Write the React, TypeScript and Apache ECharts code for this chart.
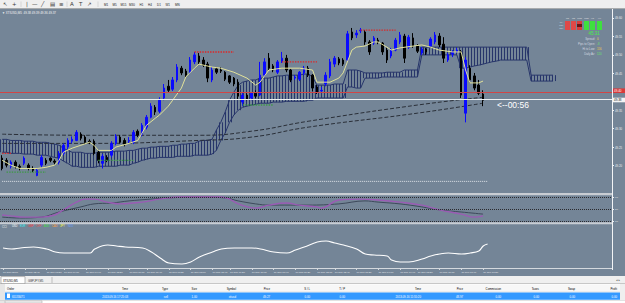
import React, { useEffect, useRef } from 'react';
import * as echarts from 'echarts';

const FONT = 'Liberation Sans';
const BG = '#748597';
const SLOTS = 140;

// ---- M5 candles (open, close, low, high) ----
const opens = [
  49.220, 49.214, 49.198, 49.209, 49.198, 49.206, 49.201, 49.192, 49.173, 49.201,
  49.214, 49.220, 49.212, 49.209, 49.233, 49.250, 49.266, 49.268, 49.285, 49.277,
  49.266, 49.266, 49.236, 49.206, 49.222, 49.228, 49.260, 49.277, 49.268, 49.266,
  49.263, 49.293, 49.285, 49.304, 49.331, 49.358, 49.347, 49.383, 49.415, 49.407,
  49.432, 49.464, 49.456, 49.453, 49.481, 49.497, 49.486, 49.475, 49.432, 49.462,
  49.459, 49.453, 49.443, 49.437, 49.426, 49.372, 49.391, 49.383, 49.396, 49.391,
  49.445, 49.491, 49.470, 49.453, 49.481, 49.491, 49.459, 49.437, 49.434, 49.451,
  49.464, 49.445, 49.413, 49.402, 49.421, 49.443, 49.475, 49.489, 49.486, 49.486,
  49.562, 49.554, 49.565, 49.562, 49.535, 49.532, 49.540, 49.532, 49.513, 49.497,
  49.513, 49.535, 49.551, 49.521, 49.546, 49.524, 49.505, 49.516, 49.524, 49.535,
  49.551, 49.529, 49.486, 49.502, 49.508, 49.508, 49.342, 49.464, 49.443, 49.418,
  49.394,
];
const closes = [
  49.192, 49.201, 49.209, 49.198, 49.195, 49.220, 49.192, 49.187, 49.187, 49.222,
  49.206, 49.214, 49.209, 49.233, 49.255, 49.268, 49.271, 49.290, 49.274, 49.263,
  49.263, 49.233, 49.214, 49.225, 49.214, 49.260, 49.279, 49.263, 49.258, 49.268,
  49.290, 49.282, 49.309, 49.331, 49.361, 49.345, 49.377, 49.410, 49.404, 49.432,
  49.467, 49.451, 49.445, 49.486, 49.500, 49.481, 49.472, 49.437, 49.459, 49.453,
  49.456, 49.434, 49.426, 49.421, 49.388, 49.391, 49.380, 49.396, 49.388, 49.445,
  49.481, 49.464, 49.459, 49.481, 49.491, 49.459, 49.432, 49.440, 49.453, 49.464,
  49.445, 49.410, 49.399, 49.404, 49.445, 49.481, 49.491, 49.478, 49.475, 49.557,
  49.546, 49.559, 49.567, 49.535, 49.508, 49.546, 49.535, 49.508, 49.486, 49.513,
  49.540, 49.554, 49.491, 49.548, 49.524, 49.510, 49.516, 49.508, 49.543, 49.554,
  49.527, 49.491, 49.500, 49.508, 49.513, 49.391, 49.486, 49.432, 49.410, 49.396,
  49.377,
];
const lows = [
  49.187, 49.195, 49.192, 49.192, 49.187, 49.201, 49.187, 49.182, 49.171, 49.195,
  49.201, 49.209, 49.203, 49.203, 49.228, 49.244, 49.260, 49.266, 49.268, 49.258,
  49.258, 49.228, 49.206, 49.192, 49.209, 49.222, 49.255, 49.260, 49.252, 49.260,
  49.258, 49.277, 49.279, 49.298, 49.328, 49.337, 49.342, 49.377, 49.399, 49.402,
  49.426, 49.445, 49.440, 49.448, 49.475, 49.475, 49.467, 49.426, 49.426, 49.448,
  49.451, 49.429, 49.421, 49.415, 49.380, 49.361, 49.377, 49.377, 49.383, 49.388,
  49.440, 49.459, 49.453, 49.448, 49.478, 49.453, 49.426, 49.432, 49.429, 49.445,
  49.440, 49.402, 49.394, 49.396, 49.415, 49.437, 49.467, 49.472, 49.470, 49.481,
  49.540, 49.546, 49.559, 49.527, 49.500, 49.527, 49.529, 49.500, 49.478, 49.491,
  49.510, 49.529, 49.478, 49.516, 49.519, 49.505, 49.500, 49.500, 49.521, 49.529,
  49.521, 49.478, 49.481, 49.494, 49.505, 49.383, 49.317, 49.424, 49.404, 49.391,
  49.361,
];
const highs = [
  49.228, 49.220, 49.214, 49.214, 49.203, 49.225, 49.206, 49.198, 49.192, 49.228,
  49.220, 49.222, 49.217, 49.239, 49.260, 49.274, 49.279, 49.296, 49.290, 49.282,
  49.271, 49.271, 49.241, 49.231, 49.228, 49.266, 49.285, 49.282, 49.274, 49.277,
  49.296, 49.298, 49.315, 49.337, 49.369, 49.364, 49.385, 49.421, 49.432, 49.440,
  49.475, 49.470, 49.462, 49.494, 49.508, 49.505, 49.494, 49.481, 49.467, 49.467,
  49.467, 49.456, 49.445, 49.440, 49.434, 49.399, 49.396, 49.399, 49.404, 49.481,
  49.491, 49.505, 49.475, 49.486, 49.508, 49.500, 49.462, 49.445, 49.456, 49.470,
  49.470, 49.448, 49.418, 49.413, 49.453, 49.489, 49.497, 49.494, 49.491, 49.565,
  49.573, 49.567, 49.573, 49.567, 49.540, 49.551, 49.546, 49.535, 49.519, 49.519,
  49.546, 49.562, 49.557, 49.554, 49.559, 49.529, 49.521, 49.519, 49.548, 49.562,
  49.559, 49.548, 49.505, 49.513, 49.519, 49.513, 49.494, 49.472, 49.451, 49.432,
  49.404,
];

const askPrice = 49.402;
const bidPrice = 49.377;
const dottedLevel = 49.157;
const dottedEndIdx = 111;

// ---- Ichimoku cloud (upper / lower edge per bar, shifted forward) ----
const cloudTop = [
  49.271, 49.271, 49.268, 49.268, 49.268, 49.266, 49.266, 49.266, 49.263,
  49.263, 49.263, 49.260, 49.258, 49.255,
  49.247, 49.241,
  49.236, 49.236, 49.236, 49.233, 49.233, 49.233, 49.236, 49.236, 49.236, 49.236, 49.239, 49.239, 49.239, 49.241,
  49.241, 49.244,
  49.247, 49.247, 49.250, 49.250,
  49.252, 49.252, 49.252, 49.255, 49.255,
  49.258, 49.258, 49.260, 49.260,
  49.266, 49.268, 49.268, 49.271,
  49.296, 49.317, 49.345, 49.377, 49.399, 49.418, 49.426, 49.429, 49.432, 49.432,
  49.437, 49.437, 49.437,
  49.440, 49.443, 49.443,
  49.445, 49.445, 49.445, 49.445, 49.448,
  49.448, 49.440,
  49.418, 49.418, 49.418, 49.418, 49.421, 49.421, 49.421,
  49.459, 49.459, 49.459, 49.456,
  49.451, 49.451, 49.451, 49.451, 49.451, 49.453, 49.453, 49.453, 49.453,
  49.459, 49.459, 49.459, 49.459,
  49.521, 49.521, 49.521, 49.521, 49.521, 49.521, 49.521, 49.521, 49.521,
  49.521, 49.521, 49.521, 49.521, 49.521, 49.521, 49.521, 49.521,
  49.521, 49.521, 49.521, 49.521, 49.521, 49.521, 49.521, 49.521,
  49.445, 49.445, 49.445, 49.445, 49.445, 49.445,
];
const cloudBottom = [
  49.236, 49.236, 49.233, 49.233, 49.233, 49.231, 49.231, 49.231, 49.228,
  49.228, 49.228, 49.225, 49.222, 49.220,
  49.212, 49.206,
  49.198, 49.198, 49.195, 49.195, 49.195, 49.195, 49.198, 49.198, 49.198, 49.198, 49.198, 49.201, 49.201, 49.201,
  49.206, 49.209,
  49.214, 49.217, 49.220, 49.220,
  49.222, 49.222, 49.222, 49.222, 49.225,
  49.225, 49.225, 49.225, 49.228,
  49.228, 49.228, 49.228, 49.231,
  49.241, 49.268, 49.288, 49.317, 49.337, 49.350, 49.358, 49.361, 49.364, 49.366,
  49.369, 49.369, 49.369,
  49.372, 49.372, 49.372,
  49.374, 49.374, 49.374, 49.374, 49.374,
  49.377, 49.377,
  49.383, 49.383, 49.383, 49.383, 49.383, 49.383, 49.383,
  49.413, 49.413, 49.410, 49.410,
  49.437, 49.437, 49.437, 49.437, 49.440, 49.440, 49.440, 49.440, 49.440,
  49.440, 49.440, 49.440, 49.440,
  49.500, 49.500, 49.500, 49.500, 49.500, 49.500, 49.500, 49.500, 49.500,
  49.464, 49.464, 49.467, 49.470, 49.472, 49.475, 49.478, 49.481, 49.483,
  49.486, 49.486, 49.486, 49.486, 49.486, 49.486, 49.486,
  49.429, 49.429, 49.429, 49.429, 49.429, 49.429,
];

// ---- Tenkan line (bar index, value) ----
const tenkanIdx = [0, 2, 4, 8, 10, 12, 13, 14, 16, 18, 20, 21, 22, 25, 26, 29, 31, 32, 33, 35, 36, 38, 39, 41, 42, 44, 45, 48, 50, 53, 56, 58, 59, 61, 64, 68, 71, 72, 75, 77, 78, 80, 81, 83, 85, 86, 88, 89, 91, 96, 98, 100, 103, 105, 106, 107, 109, 110];
const tenkanVal = [49.214, 49.201, 49.192, 49.192, 49.195, 49.201, 49.214, 49.236, 49.247, 49.255, 49.263, 49.255, 49.241, 49.241, 49.250, 49.260, 49.268, 49.288, 49.309, 49.328, 49.337, 49.361, 49.377, 49.410, 49.440, 49.464, 49.475, 49.467, 49.464, 49.453, 49.437, 49.418, 49.426, 49.459, 49.464, 49.464, 49.459, 49.426, 49.426, 49.437, 49.451, 49.513, 49.521, 49.524, 49.535, 49.535, 49.521, 49.513, 49.519, 49.527, 49.521, 49.513, 49.508, 49.508, 49.459, 49.424, 49.424, 49.429];

// ---- slow moving averages (dashed) ----
const maIdx = [0, 20, 45, 57, 70, 95, 110];
const maUpper = [49.285, 49.282, 49.282, 49.293, 49.320, 49.364, 49.385];
const maLower = [49.260, 49.260, 49.268, 49.277, 49.304, 49.342, 49.369];

// ---- resistance (red) / support (green) dotted segments ----
const resStart = [0, 44, 64, 82];
const resEnd = [2, 53, 72, 90];
const resVal = [49.233, 49.508, 49.481, 49.567];
const supStart = [1, 22, 55];
const supEnd = [10, 30, 62];
const supVal = [49.182, 49.214, 49.364];

const priceTicks = [49.15, 49.20, 49.25, 49.30, 49.35, 49.40, 49.45, 49.50, 49.55, 49.60];

// ---- oscillator pane (0..100) ----
const stochIdx = [0, 2, 5, 9, 12, 14, 17, 19, 21, 24, 27, 32, 36, 41, 45, 50, 52, 54, 58, 61, 65, 68, 72, 73, 77, 82, 86, 91, 96, 100, 105, 108, 110];
const stochMain = [30, 27, 23, 23, 30, 47, 73, 83, 83, 73, 67, 73, 83, 90, 90, 90, 83, 67, 53, 63, 70, 63, 57, 53, 80, 83, 80, 73, 63, 47, 33, 23, 27];
const signalIdx = [0, 4, 9, 13, 18, 21, 25, 29, 34, 38, 45, 51, 54, 58, 61, 66, 70, 77, 83, 86, 91, 96, 100, 105, 110];
const stochSignal = [23, 20, 23, 40, 57, 67, 70, 77, 83, 87, 90, 87, 77, 67, 63, 63, 63, 67, 77, 73, 67, 57, 47, 40, 33];
const stochLevels = [10, 50, 90];

// ---- CCI pane ----
const cciIdx = [0, 2, 4, 7, 10, 12, 14, 18, 20, 21, 24, 26, 28, 32, 34, 36, 38, 41, 43, 45, 48, 50, 53, 57, 59, 62, 65, 67, 69, 72, 74, 76, 78, 81, 83, 85, 88, 89, 91, 93, 96, 98, 100, 102, 105, 107, 109, 110, 111];
const cciVal = [-18, -27, -18, -9, -27, -55, -64, -64, -64, -27, 9, 0, -9, -18, -55, -109, -155, -164, -145, -100, -55, -27, -18, -18, -27, -55, -64, -36, -9, 36, 45, 27, 9, -27, -73, -82, -91, -127, -145, -145, -118, -91, -73, -64, -73, -64, -45, 0, 18];

// ---- time axis ----
const labelIdx = [0, 5, 10, 14, 19, 24, 29, 33, 38, 43, 48, 52, 57, 62, 67, 72, 76, 81, 86, 91, 95, 100, 105, 110];
const timeLabels = ['16 Sep 02:00', '16 Sep 02:40', '16 Sep 03:20', '16 Sep 04:00', '16 Sep 04:40', '16 Sep 05:20', '16 Sep 06:00', '16 Sep 06:40', '16 Sep 07:20', '16 Sep 08:00', '16 Sep 08:40', '16 Sep 09:20', '16 Sep 10:00', '16 Sep 10:40', '16 Sep 11:20', '16 Sep 12:00', '16 Sep 12:40', '16 Sep 13:20', '16 Sep 14:00', '16 Sep 14:40', '16 Sep 15:20', '16 Sep 16:00', '16 Sep 16:40', '16 Sep 17:20'];

// ---- dashboard panel ----
const panelTf = ['M1', 'M5', 'M15', 'M30', 'H1', 'H4'];
const panelRows = ['MA', 'RSI', 'CCI'];
const panelColor = ['#e04848', '#e04848', '#d83c3c', '#3ee03e', '#3ee03e', '#3ee03e'];
const panelMid = ['#e04848', '#e04848', '#6a1414', '#3ee03e', '#3ee03e', '#3ee03e'];
const statLabels = ['Spread:', 'Pips to Open:', 'Hi to Low:', 'Daily Av:'];
const statValues = ['0', '-8', '156', '120'];
const statColors = ['#f0d848', '#6ae06a', '#f0c848', '#6ae06a'];

// ---- terminal ----
const termHeaders = ['Order', 'Time', 'Type', 'Size', 'Symbol', 'Price', 'S / L', 'T / P', 'Time', 'Price', 'Commission', 'Taxes', 'Swap', 'Profit'];
const termRow = ['65133471', '2013.09.16 17:25:03', 'sell', '1.00', 'xtiusd', '49.27', '0.00', '0.00', '2013.09.16 11:55:20', '48.97', '0.00', '0.00', '0.00', '0.00'];
const termColRight = [12, 128, 168, 197, 236, 270, 310, 345, 421, 463, 501, 539, 575, 617];

const cciCodes = ['USD', 'EUR', 'GBP', 'CHF', 'AUD', 'CAD', 'JPY', 'NZD'];
const cciColors = ['#ffffff', '#30f0f0', '#ff3a3a', '#e05050', '#40e040', '#ffa040', '#ffff40', '#6aa0ff'];

const tfButtons = ['M1', 'M5', 'M15', 'M30', 'H1', 'H4', 'D1', 'W1', 'MN'];

const HATCH = '#27356a';

function T(x: number, y: number, text: string, fill: string, size = 3, align = 'left', extra: any = {}) {
  return {
    type: 'text', x, y, silent: true, z: 100,
    style: { text, fill, fontSize: size, fontFamily: FONT, align, textAlign: align, verticalAlign: 'middle', textVerticalAlign: 'middle', ...extra },
  };
}
function R(x: number, y: number, w: number, h: number, fill: string, stroke?: string) {
  return { type: 'rect', silent: true, z: 99, shape: { x, y, width: w, height: h }, style: { fill, stroke: stroke || null, lineWidth: stroke ? 0.6 : 0 } };
}
function L(x1: number, y1: number, x2: number, y2: number, stroke: string, lw = 1) {
  return { type: 'line', silent: true, z: 99, shape: { x1, y1, x2, y2 }, style: { stroke, lineWidth: lw } };
}

export default function App() {
  const ref = useRef<HTMLDivElement>(null);
  useEffect(() => {
    if (!ref.current) return;
    const chart = echarts.init(ref.current, null, { renderer: 'svg' });

    const categories = Array.from({ length: SLOTS }, (_, i) => {
      const k = labelIdx.indexOf(i);
      return k >= 0 ? timeLabels[k] : '';
    });
    const candleData = opens.map((o, i) => [o, closes[i], lows[i], highs[i]]);
    const cloudData = cloudTop.map((t, i) => [i, t, cloudBottom[i]]);
    const pairs = (idx: number[], vals: number[]) => idx.map((x, k) => [x, vals[k]]);

    const levelSeries = (start: number[], end: number[], vals: number[], color: string) =>
      start.map((s, k) => ({
        type: 'line', xAxisIndex: 0, yAxisIndex: 0, z: 5, silent: true, showSymbol: false,
        data: [[s, vals[k]], [end[k], vals[k]]],
        lineStyle: { color, width: 1.4, type: [1.4, 1.2] },
      }));

    const graphics: any[] = [];
    // toolbar
    graphics.push(R(0, 0, 625, 8.6, '#efefef'));
    graphics.push(L(0, 8.6, 625, 8.6, '#a4a4a4', 0.8));
    const icons = ['↖', '+', '|', '—', '╱', '▤', '≡', 'A', 'T', '↗'];
    const iconX = [3, 12, 26, 32, 41, 50, 59, 70, 79, 87];
    icons.forEach((g, k) => graphics.push(T(iconX[k], 4.3, g, '#3a3a3a', 5.5, 'left', { fontFamily: 'DejaVu Sans' })));
    [21, 67, 98].forEach((x) => graphics.push(L(x, 1.5, x, 7, '#c4c4c4', 0.6)));
    const tfX = [104, 112.5, 120.5, 129, 139.5, 148, 157, 165.5, 175];
    tfButtons.forEach((t, k) => graphics.push(T(tfX[k], 4.3, t, '#202020', 3)));

    // chart info
    graphics.push(T(2, 12.2, '▼ XTIUSD,M5  49.38 49.39 49.36 49.37', '#f4f4f4', 3));

    // price axis line and separators
    graphics.push(L(612.5, 9, 612.5, 270, '#f2f4f6', 1));
    graphics.push(R(0, 193, 612, 2.2, '#c8cdd3'));
    graphics.push(R(0, 222.2, 612, 2, '#c8cdd3'));

    // ask / bid boxes
    graphics.push(R(613, 88.4, 12, 4.6, '#d83a3a'));
    graphics.push(T(614, 90.7, askPrice.toFixed(2), '#ffffff', 3));
    graphics.push(R(613, 97.7, 12, 4.6, '#f4f4f4'));
    graphics.push(T(614, 100, bidPrice.toFixed(2), '#202020', 3));

    // bar timer
    graphics.push(T(497, 104.5, '<--00:56', '#ffffff', 8.5));

    // CCI label
    graphics.push(T(2, 226.6, 'CCI', '#e8e8e8', 2.8));
    cciCodes.forEach((c, k) => graphics.push(T(12 + k * 8, 226.6, c, cciColors[k], 2.6)));

    // dashboard panel
    const colX = [565, 571, 577, 584, 590, 597];
    panelTf.forEach((t, k) => graphics.push(T(colX[k] + 2.5, 18.3, t, '#e4e4e4', 2.3, 'center')));
    panelRows.forEach((r, k) => graphics.push(T(563, 22.5 + k * 3, r, '#d8dde2', 2.2, 'right')));
    colX.forEach((x, k) => {
      graphics.push(R(x, 21, 5, 3, panelColor[k]));
      graphics.push(R(x, 24, 5, 3, panelMid[k]));
      graphics.push(R(x, 27, 5, 3, panelColor[k]));
    });
    graphics.push(T(594, 33.8, '45.31', '#44f044', 4.5, 'center'));
    statLabels.forEach((s, k) => {
      graphics.push(T(595, 38.5 + k * 5, s, '#d4dae0', 2.8, 'right'));
      graphics.push(T(597, 38.5 + k * 5, statValues[k], statColors[k], 2.8));
    });

    // terminal: tabs
    graphics.push(R(0, 276, 625, 8, '#efefef'));
    graphics.push(L(0, 283.7, 625, 283.7, '#9c9c9c', 0.6));
    graphics.push(R(1, 276.6, 24, 7, '#ffffff', '#8a8a8a'));
    graphics.push(T(3, 280.2, 'XTIUSD,M5', '#000000', 2.8));
    graphics.push(T(28, 280.2, 'GBPJPY,M5', '#3a3a3a', 2.8));
    graphics.push(L(52, 277, 52, 283, '#9a9a9a', 0.6));
    graphics.push(T(616, 280.2, '◂ ▸', '#555555', 3, 'left', { fontFamily: 'DejaVu Sans' }));
    // terminal: table
    graphics.push(R(0, 284, 625, 19, '#ffffff'));
    graphics.push(R(0, 284, 5, 19, '#e6e6e6'));
    graphics.push(R(5, 284.5, 615, 7.5, '#f7f7f7'));
    graphics.push(L(5, 292, 620, 292, '#c8c8c8', 0.5));
    termHeaders.forEach((h, k) => {
      if (k === 0) graphics.push(T(7, 288.4, h, '#000000', 2.8));
      else graphics.push(T(termColRight[k], 288.4, h, '#000000', 2.8, 'right'));
    });
    graphics.push(R(5, 292.5, 615, 7.2, '#3399ff'));
    graphics.push(R(7, 293.5, 3, 4.5, '#ffffff'));
    termRow.forEach((v, k) => {
      if (k === 0) graphics.push(T(12, 296.2, v, '#ffffff', 2.8));
      else graphics.push(T(termColRight[k], 296.2, v, '#ffffff', 2.8, 'right'));
    });
    graphics.push(R(620, 284, 5, 16, '#efefef'));
    graphics.push(L(0, 300.5, 625, 300.5, '#c4c4c4', 0.5));
    graphics.push(R(5, 300.8, 37, 2.2, '#f2f2f2', '#b0b0b0'));

    const option: any = {
      animation: false,
      backgroundColor: BG,
      textStyle: { fontFamily: FONT },
      grid: [
        { left: 0, right: 13, top: 18, height: 184.4 },
        { left: 0, right: 13, top: 194, height: 30 },
        { left: 0, right: 13, top: 224, height: 44 },
      ],
      xAxis: [0, 1, 2].map((g) => ({
        type: 'category', gridIndex: g, data: categories, boundaryGap: true,
        show: g === 2,
        position: 'bottom',
        axisLine: { show: g === 2, onZero: false, lineStyle: { color: '#d4d9de', width: 1 } },
        axisTick: { show: g === 2, interval: (i: number) => labelIdx.includes(i), alignWithLabel: true, length: 2, lineStyle: { color: '#d4d9de' } },
        axisLabel: { show: g === 2, interval: 0, align: 'left', fontSize: 2.5, color: '#e8ecf0', margin: 2.5, fontFamily: FONT },
        splitLine: { show: false },
      })),
      yAxis: [
        {
          type: 'value', gridIndex: 0, position: 'right', min: 49.1, max: 49.6, interval: 0.05,
          axisLine: { show: false, onZero: false },
          axisTick: { show: true, length: 2, customValues: priceTicks, lineStyle: { color: '#f0f0f0' } },
          axisLabel: { customValues: priceTicks, showMinLabel: false, fontSize: 2.8, color: '#eef0f2', margin: 3, fontFamily: FONT, formatter: (v: number) => v.toFixed(2) },
          splitLine: { show: false },
        },
        {
          type: 'value', gridIndex: 1, position: 'right', min: 0, max: 100,
          axisLine: { show: false, onZero: false },
          axisTick: { show: true, length: 2, customValues: stochLevels, lineStyle: { color: '#f0f0f0' } },
          axisLabel: { customValues: stochLevels, fontSize: 2.5, color: '#eef0f2', margin: 3, fontFamily: FONT },
          splitLine: { show: false },
        },
        {
          type: 'value', gridIndex: 2, position: 'right', min: -200, max: 200,
          axisLine: { show: false, onZero: false }, axisTick: { show: false }, axisLabel: { show: false }, splitLine: { show: false },
        },
      ],
      series: [
        {
          type: 'custom', name: 'cloud', xAxisIndex: 0, yAxisIndex: 0, z: 1, silent: true,
          data: cloudData,
          encode: { x: 0, y: [1, 2] },
          renderItem: (params: any, api: any) => {
            const i = api.value(0);
            const a = api.coord([i, api.value(1)]);
            const b = api.coord([i, api.value(2)]);
            const w = api.size([1, 0])[0];
            const left = a[0] - w / 2;
            const right = a[0] + w / 2;
            const children: any[] = [];
            for (let x = Math.ceil(left / 3) * 3; x < right; x += 3) {
              children.push({
                type: 'line',
                shape: { x1: x + 0.5, y1: a[1], x2: x + 0.5, y2: b[1] },
                style: { stroke: HATCH, lineWidth: 1 },
              });
            }
            return { type: 'group', children };
          },
        },
        { type: 'line', xAxisIndex: 0, yAxisIndex: 0, z: 1, silent: true, showSymbol: false, data: cloudTop, lineStyle: { color: HATCH, width: 1 } },
        { type: 'line', xAxisIndex: 0, yAxisIndex: 0, z: 1, silent: true, showSymbol: false, data: cloudBottom, lineStyle: { color: HATCH, width: 1 } },
        { type: 'line', xAxisIndex: 0, yAxisIndex: 0, z: 2, silent: true, showSymbol: false, smooth: true, data: pairs(maIdx, maUpper), lineStyle: { color: '#2a2f38', width: 1, type: [4, 2] } },
        { type: 'line', xAxisIndex: 0, yAxisIndex: 0, z: 2, silent: true, showSymbol: false, smooth: true, data: pairs(maIdx, maLower), lineStyle: { color: '#2a2f38', width: 1, type: [4, 2] } },
        { type: 'line', xAxisIndex: 0, yAxisIndex: 0, z: 2, silent: true, showSymbol: false, data: [[0, dottedLevel], [dottedEndIdx, dottedLevel]], lineStyle: { color: '#dfe4ea', width: 1, type: [1, 1] } },
        {
          type: 'candlestick', xAxisIndex: 0, yAxisIndex: 0, z: 3, silent: true,
          data: candleData, barWidth: 2,
          itemStyle: { color: '#0a0aff', color0: '#000000', borderColor: '#0a0aff', borderColor0: '#000000', borderWidth: 1 },
          markLine: {
            silent: true, symbol: ['none', 'none'], label: { show: false }, animation: false,
            data: [
              { yAxis: askPrice, lineStyle: { color: '#d04646', width: 1, type: 'solid' } },
              { yAxis: bidPrice, lineStyle: { color: '#eceff2', width: 1, type: 'solid' } },
            ],
          },
        },
        { type: 'line', xAxisIndex: 0, yAxisIndex: 0, z: 4, silent: true, showSymbol: false, data: pairs(tenkanIdx, tenkanVal), lineStyle: { color: '#e2e29a', width: 1 } },
        ...levelSeries(resStart, resEnd, resVal, '#e02424'),
        ...levelSeries(supStart, supEnd, supVal, '#3c9a44'),
        {
          type: 'line', xAxisIndex: 1, yAxisIndex: 1, z: 3, silent: true, showSymbol: false, smooth: 0.4,
          data: pairs(signalIdx, stochSignal), lineStyle: { color: '#3e4a5c', width: 1 },
          markLine: {
            silent: true, symbol: ['none', 'none'], label: { show: false },
            data: stochLevels.map((v) => ({ yAxis: v })),
            lineStyle: { color: '#2a2a2e', width: 1, type: [1, 1] },
          },
        },
        { type: 'line', xAxisIndex: 1, yAxisIndex: 1, z: 4, silent: true, showSymbol: false, smooth: 0.4, data: pairs(stochIdx, stochMain), lineStyle: { color: '#9a5cb4', width: 1.4 } },
        { type: 'line', xAxisIndex: 2, yAxisIndex: 2, z: 4, silent: true, showSymbol: false, smooth: 0.4, data: pairs(cciIdx, cciVal), lineStyle: { color: '#ffffff', width: 1.1 } },
      ],
      graphic: { elements: graphics },
    };

    chart.setOption(option);
    return () => chart.dispose();
  }, []);

  return <div ref={ref} style={{ position: 'fixed', left: 0, top: 0, width: 625, height: 303 }} />;
}
